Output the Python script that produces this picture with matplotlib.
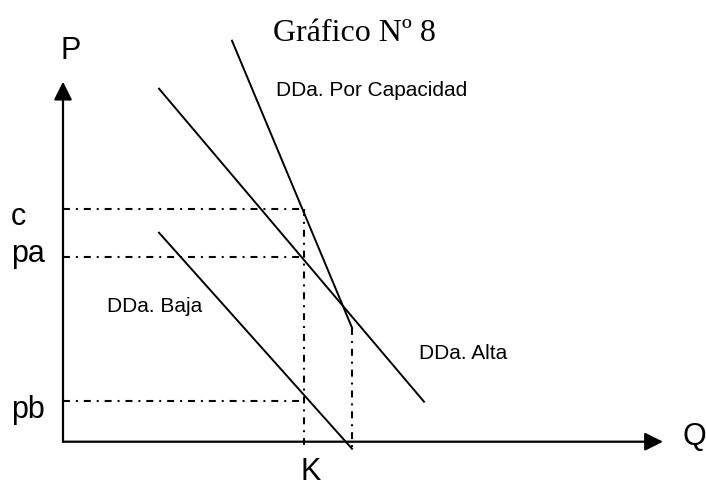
import matplotlib.pyplot as plt

# datos (unidades arbitrarias, origen en el cruce de ejes)
q_max = 60.0
p_max = 36.0

precios = ['c', 'pa', 'pb']
niveles = [23.3, 18.5, 4.1]
K = 24.1
q_cap = 28.9  # donde termina la demanda por capacidad

dd_cap_q = [16.9, 28.9]
dd_cap_p = [40.1, 11.4]
dd_alta_q = [9.6, 36.1]
dd_alta_p = [35.3, 4.0]
dd_baja_q = [9.6, 28.9]
dd_baja_p = [20.9, -0.7]

plt.rcParams['font.family'] = 'Liberation Sans'
plt.rcParams['lines.scale_dashes'] = False

fig = plt.figure(figsize=(7.06, 4.89), dpi=100)
ax = fig.add_axes([0, 0, 1, 1])
ax.set_xlim(-6.3, 64.3)
ax.set_ylim(-4.63, 44.27)
ax.axis('off')

dashdot = (0, (5.0, 4.3, 1.4, 4.3))

# ejes con flecha
flecha = dict(arrowstyle='-|>,head_length=1.1,head_width=0.55', color='black',
              lw=1.6, shrinkA=0, shrinkB=0, mutation_scale=10)
ax.annotate('', xy=(0, p_max), xytext=(0, 0), arrowprops=flecha)
ax.annotate('', xy=(q_max, 0), xytext=(0, 0), arrowprops=flecha)

# líneas de referencia
for nivel in niveles:
    ax.plot([0, K], [nivel, nivel], color='black', lw=1.5, linestyle=dashdot)
ax.plot([K, K], [max(niveles), -0.3], color='black', lw=1.5, linestyle=dashdot)
ax.plot([q_cap, q_cap], [dd_cap_p[1], -0.7], color='black', lw=1.5, linestyle=dashdot)

# curvas de demanda
ax.plot(dd_cap_q, dd_cap_p, color='black', lw=1.4)
ax.plot(dd_alta_q, dd_alta_p, color='black', lw=1.4)
ax.plot(dd_baja_q, dd_baja_p, color='black', lw=1.4)

# textos
ax.text(21.0, 40.2, 'Gráfico Nº 8', family='Liberation Serif', fontsize=23,
        va='baseline', ha='left')
ax.text(21.3, 34.7, 'DDa. Por Capacidad', fontsize=15, va='baseline')
ax.text(35.6, 8.34, 'DDa. Alta', fontsize=15, va='baseline')
ax.text(4.4, 13.1, 'DDa. Baja', fontsize=15, va='baseline')

ax.text(-0.3, 38.34, 'P', fontsize=22, va='baseline')
ax.text(61.9, -0.23, 'Q', fontsize=22, va='baseline')
ax.text(23.7, -3.75, 'K', fontsize=22, va='baseline')

for nombre, y in zip(precios, [21.77, 18.07, 2.47]):
    ax.text(-5.2, y, nombre, fontsize=22, va='baseline')

plt.savefig('out.png', dpi=100)
